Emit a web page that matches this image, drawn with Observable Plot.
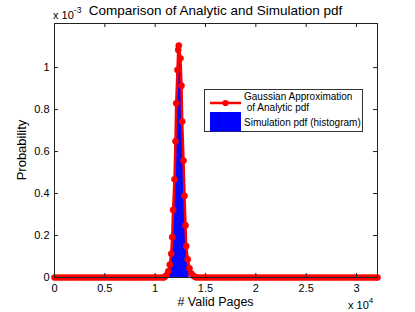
<!DOCTYPE html>
<html>
<head>
<meta charset="utf-8">
<script src="https://cdn.jsdelivr.net/npm/d3@7"></script>
<script src="https://cdn.jsdelivr.net/npm/@observablehq/plot@0.6"></script>
<style>
  html, body { margin: 0; padding: 0; background: #fff; }
  #chart svg { display: block; }
</style>
</head>
<body>
<div id="chart"></div>
<script>
// ---- data (probabilities in units of 1e-3) ----
const flatLeftX = [0,300,600,900,1200,1500,1800,2100,2400,2700,3000,3300,3600,3900,4200,4500,4800,5100,5400,5700,6000,6300,6600,6900,7200,7500,7800,8100,8400,8700,9000,9300,9600,9900,10200,10500,10800];
const peakX = [10927,11076,11294,11453,11592,11692,11781,11920,12019,12089,12218,12288,12347,12516,12616,12685,12814,12914,13013,13083,13241,13410,13609,13808,14006];
const peakY = [0.002,0.0095,0.029,0.061,0.113,0.192,0.322,0.468,0.649,0.830,0.989,1.084,1.105,1.044,0.914,0.743,0.557,0.389,0.248,0.149,0.086,0.044,0.018,0.007,0.002];
const flatRightX = [14200,14500,14800,15100,15400,15700,16000,16300,16600,16900,17200,17500,17800,18100,18400,18700,19000,19300,19600,19900,20200,20500,20800,21100,21400,21700,22000,22300,22600,22900,23200,23500,23800,24100,24400,24700,25000,25300,25600,25900,26200,26500,26800,27100,27400,27700,28000,28300,28600,28900,29200,29500,29800,30100,30400,30700,31000,31300,31600,31900,32085];

// simulation histogram (bin centers, bin heights)
const histX = [11500,11600,11700,11800,11900,12000,12100,12200,12300,12400,12500,12600,12700,12800,12900,13000,13100,13200,13300];
const histY = [0.07,0.12,0.20,0.33,0.46,0.63,0.83,0.97,1.07,1.09,1.04,0.92,0.72,0.56,0.40,0.26,0.15,0.08,0.03];
const binWidth = 100;

const xTicks = [0,5000,10000,15000,20000,25000,30000];
const xTickLabels = ["0","0.5","1","1.5","2","2.5","3"];
const yTicks = [0,0.2,0.4,0.6,0.8,1.0];
const yTickLabels = ["0","0.2","0.4","0.6","0.8","1"];

const titleText = "Comparison of Analytic and Simulation pdf";
const xLabel = "# Valid Pages";
const yLabel = "Probability";
const legendLabels = ["Gaussian Approximation", " of Analytic pdf", "Simulation pdf (histogram)"];

// ---- build tables ----
const analytic = [
  ...flatLeftX.map(x => ({x, y: 0})),
  ...peakX.map((x, i) => ({x, y: peakY[i]})),
  ...flatRightX.map(x => ({x, y: 0}))
];
const hist = histX.map((x, i) => ({x, y: histY[i]}));

const FONT = "'Liberation Sans', Arial, Helvetica, sans-serif";
const W = 415, H = 312, ML = 54, MR = 38, MT = 23, MB = 35;
const fw = W - ML - MR, fh = H - MT - MB;
const tl = 4;

const chart = Plot.plot({
  width: W, height: H,
  marginLeft: ML, marginRight: MR, marginTop: MT, marginBottom: MB,
  style: {fontFamily: FONT, fontSize: "11px", background: "#fff", color: "#000", overflow: "visible"},
  x: {domain: [0, 32085]},
  y: {domain: [0, 1.21]},
  marks: [
    Plot.rectY(hist, {x1: d => d.x - binWidth / 2, x2: d => d.x + binWidth / 2, y1: 0, y2: "y", fill: "#0000ff", stroke: "#0000ff", strokeWidth: 0.6}),
    Plot.line(analytic, {x: "x", y: "y", stroke: "#ff0000", strokeWidth: 2.5}),
    Plot.dot(analytic, {x: "x", y: "y", r: 3.1, fill: "#ff0000", stroke: "#ff0000", strokeWidth: 0.5}),
    Plot.frame({stroke: "#222", strokeWidth: 1}),
    // inward ticks on all four sides
    Plot.tickX(xTicks, {x: d => d, stroke: "#222", insetTop: fh - tl}),
    Plot.tickX(xTicks, {x: d => d, stroke: "#222", insetBottom: fh - tl}),
    Plot.tickY(yTicks, {y: d => d, stroke: "#222", insetRight: fw - tl}),
    Plot.tickY(yTicks, {y: d => d, stroke: "#222", insetLeft: fw - tl}),
    Plot.axisX(xTicks, {tickSize: 0, tickPadding: 7, tickFormat: (d, i) => xTickLabels[i], fontSize: 11, label: null}),
    Plot.axisY(yTicks, {tickSize: 0, tickPadding: 5, tickFormat: (d, i) => yTickLabels[i], fontSize: 11, label: null})
  ]
});

document.getElementById("chart").appendChild(chart);

const svg = d3.select(chart);
const g = svg.append("g").attr("font-family", FONT).attr("fill", "#000").attr("text-anchor", "start");

// title
g.append("text").attr("x", 215.5).attr("y", 15).attr("text-anchor", "middle")
  .attr("font-size", 13.5).text(titleText);
// top-left exponent
const e1 = g.append("text").attr("x", 53).attr("y", 18.5).attr("font-size", 11).attr("text-anchor", "start");
e1.append("tspan").text("x 10");
e1.append("tspan").attr("font-size", 8.5).attr("dy", -6).text("-3");
// bottom-right exponent
const e2 = g.append("text").attr("x", 348).attr("y", 309).attr("font-size", 11).attr("text-anchor", "start");
e2.append("tspan").text("x 10");
e2.append("tspan").attr("font-size", 8).attr("dy", -6).text("4");
// axis labels
g.append("text").attr("x", 215.5).attr("y", 306).attr("text-anchor", "middle")
  .attr("font-size", 12.5).text(xLabel);
g.append("text").attr("transform", "translate(26,150) rotate(-90)").attr("text-anchor", "middle")
  .attr("font-size", 13).text(yLabel);

// legend
const lg = svg.append("g").attr("font-family", FONT).attr("text-anchor", "start").attr("fill", "#000");
lg.append("rect").attr("x", 204.5).attr("y", 89.5).attr("width", 158).attr("height", 42)
  .attr("fill", "#fff").attr("stroke", "#333");
lg.append("line").attr("x1", 210).attr("x2", 241).attr("y1", 103).attr("y2", 103)
  .attr("stroke", "#ff0000").attr("stroke-width", 2.5);
lg.append("circle").attr("cx", 225.5).attr("cy", 103).attr("r", 3.1).attr("fill", "#ff0000");
lg.append("rect").attr("x", 210).attr("y", 112).attr("width", 31).attr("height", 19.5).attr("fill", "#0000ff");
lg.append("text").attr("x", 244).attr("y", 100).attr("font-size", 10).text(legendLabels[0]);
lg.append("text").attr("x", 244).attr("y", 111).attr("font-size", 10).style("white-space", "pre").text(legendLabels[1]);
lg.append("text").attr("x", 244).attr("y", 125.5).attr("font-size", 10).text(legendLabels[2]);
</script>
</body>
</html>
